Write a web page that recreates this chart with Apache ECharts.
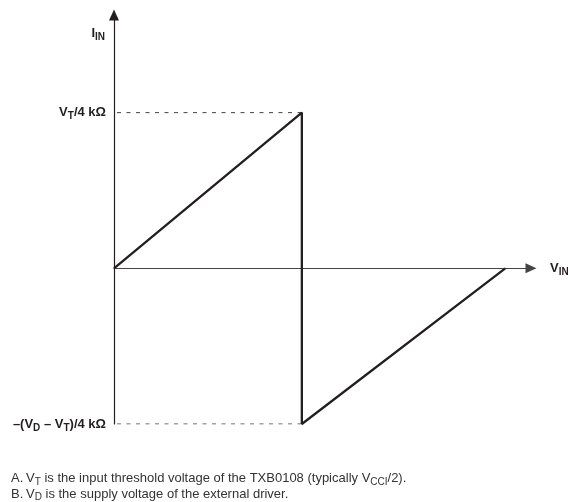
<!DOCTYPE html>
<html>
<head>
<meta charset="utf-8">
<script src="https://cdn.jsdelivr.net/npm/echarts@6/dist/echarts.min.js"></script>
<style>html,body{margin:0;padding:0;background:#fff;}#c{width:568px;height:502px;}</style>
</head>
<body>
<div id="c"></div>
<script>
// Data (V_IN in units of V_T, I_IN in units of V_T/4 kΩ)
const vIn = [0, 1, 1, 2.083];
const iIn = [0, 1, -1, 0];
const yTickValues = [1, -1];
const yTickLabels = ['{b|V}{s|T}{b|/4 kΩ}', '{b|–(V}{s|D}{b| – V}{s|T}{b|)/4 kΩ}'];
const guideLevels = [1, -1];
const guideEndX = 1;
const xAxisName = '{b|V}{s|IN}';
const yAxisName = '{b|I}{s|IN}';
const notesLetters = ['A.', 'B.'];
const notesText = [
  '{t|V}{s|T}{t| is the input threshold voltage of the TXB0108 (typically V}{s|CCI}{t|/2).}',
  '{t|V}{s|D}{t| is the supply voltage of the external driver.}'
];

const FONT = 'Liberation Sans, Arial, Helvetica, sans-serif';
const richBold = {
  b: {fontFamily: FONT, fontWeight: 'bold', fontSize: 13, color: '#231f20'},
  s: {fontFamily: FONT, fontWeight: 'bold', fontSize: 10, color: '#231f20', padding: [8, 0, 0, 0]}
};
const richNote = {
  t: {fontFamily: FONT, fontSize: 13, color: '#333'},
  s: {fontFamily: FONT, fontSize: 10, color: '#333', padding: [7, 0, 0, 0]}
};

const chart = echarts.init(document.getElementById('c'), null, {renderer: 'canvas'});

const series = [{
  type: 'line',
  data: vIn.map((x, i) => [x, iIn[i]]),
  symbol: 'none',
  lineStyle: {color: '#231f20', width: 2.3},
  z: 5
}];
guideLevels.forEach(lv => {
  series.push({
    type: 'line',
    data: [[0, lv], [guideEndX, lv]],
    symbol: 'none',
    lineStyle: {color: '#444', width: 1, type: [4, 5.5], dashOffset: -3},
    z: 3
  });
});

const graphics = [];
notesLetters.forEach((l, i) => {
  graphics.push({
    type: 'text', left: 11, top: 472 + i * 15.5,
    style: {text: l, font: '13px ' + FONT, fill: '#333'}
  });
  graphics.push({
    type: 'text', left: 26, top: 472 + i * 15.5,
    style: {text: notesText[i], rich: richNote, font: '13px ' + FONT, fill: '#333'}
  });
});

chart.setOption({
  animation: false,
  backgroundColor: '#fff',
  grid: {left: 114, right: 37, top: 15, bottom: 78, containLabel: false, outerBoundsMode: 'none'},
  xAxis: {
    type: 'value', min: 0, max: 2.22,
    axisLine: {onZero: true, lineStyle: {color: '#444', width: 1.2}, symbol: ['none', 'triangle'], symbolSize: [10, 11]},
    axisTick: {show: false}, axisLabel: {show: false}, splitLine: {show: false},
    name: xAxisName, nameLocation: 'end', nameGap: 19,
    nameTextStyle: {rich: richBold, align: 'left', verticalAlign: 'middle'}
  },
  yAxis: {
    type: 'value', min: -1, max: 1.627,
    axisLine: {show: true, onZero: false, lineStyle: {color: '#231f20', width: 1.2}, symbol: ['none', 'triangle'], symbolSize: [10, 11]},
    axisTick: {show: false}, splitLine: {show: false},
    axisLabel: {
      show: true, margin: 8, customValues: yTickValues,
      formatter: v => yTickLabels[yTickValues.indexOf(v)] || '',
      rich: richBold
    },
    name: yAxisName, nameLocation: 'end', nameGap: -18,
    nameTextStyle: {rich: richBold, align: 'right', verticalAlign: 'middle', padding: [0, 9, 0, 0]}
  },
  series: series,
  graphic: graphics
});
</script>
</body>
</html>
